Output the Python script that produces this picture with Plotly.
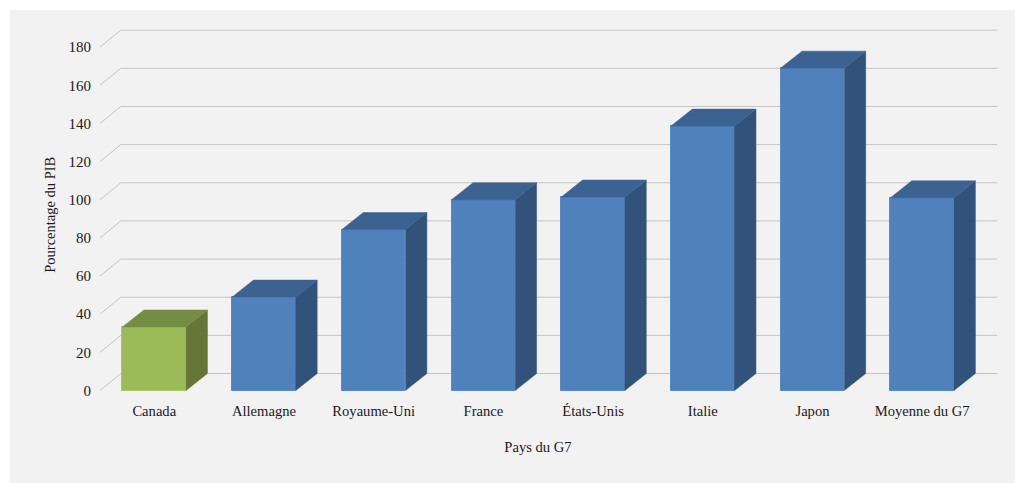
import plotly.graph_objects as go

categories = ["Canada", "Allemagne", "Royaume-Uni", "France", "États-Unis", "Italie", "Japon", "Moyenne du G7"]
values = [33.3, 49, 84.4, 100, 101.4, 138.6, 169, 101]
y_ticks = [0, 20, 40, 60, 80, 100, 120, 140, 160, 180]

front_colors = ["#9BBB59"] + ["#4F81BD"] * 7
side_colors = ["#657637"] + ["#31527A"] * 7
top_colors = ["#758C43"] + ["#3B6291"] * 7
edge_colors = ["#A9C66C"] + ["#5A8AC4"] * 7

W, H = 1015, 491
BAR_W = 0.58
DX, DY = 0.195, 8.9
GRID_DX = 0.19
LEFT = -0.4945
X_RANGE = [-0.686, 7.682]
Y_RANGE = [-5.24, 189.5]
GRID = "#C4C4C4"
FONT = "Liberation Serif"
INK = "#1a1a1a"

fig = go.Figure()
half = BAR_W / 2
idx = list(range(len(categories)))

for i, v in zip(idx, values):
    l, r = i - half, i + half
    fig.add_trace(go.Scatter(x=[r, r + DX, r + DX, r, r], y=[0, DY, v + DY, v, 0],
                             mode="lines", fill="toself", fillcolor=side_colors[i],
                             line=dict(color=side_colors[i], width=0.5), hoverinfo="skip"))
    fig.add_trace(go.Scatter(x=[l, l + DX, r + DX, r, l], y=[v, v + DY, v + DY, v, v],
                             mode="lines", fill="toself", fillcolor=top_colors[i],
                             line=dict(color=top_colors[i], width=0.5), hoverinfo="skip"))

fig.add_trace(go.Bar(x=idx, y=values, width=BAR_W,
                     marker=dict(color=front_colors, line=dict(color=edge_colors, width=1))))

shapes = [dict(type="rect", xref="paper", yref="paper", x0=10 / W, x1=1, y0=0, y1=1 - 10 / H,
               fillcolor="#F2F2F2", line_width=0, layer="below")]
for t in y_ticks:
    shapes.append(dict(type="line", xref="x", yref="y", x0=LEFT, y0=t, x1=LEFT + GRID_DX, y1=t + DY,
                       line=dict(color=GRID, width=1), layer="below"))
    shapes.append(dict(type="line", xref="x", yref="y", x0=LEFT + GRID_DX, y0=t + DY, x1=X_RANGE[1], y1=t + DY,
                       line=dict(color=GRID, width=1), layer="below"))

fig.update_layout(
    width=W, height=H, margin=dict(l=0, r=0, t=0, b=0, pad=0),
    paper_bgcolor="white", plot_bgcolor="rgba(0,0,0,0)", showlegend=False,
    font=dict(family=FONT, size=14.6, color=INK), shapes=shapes, bargap=0,
    xaxis=dict(domain=[79 / W, 997 / W], range=X_RANGE, tickmode="array", tickvals=idx,
               ticktext=categories, showgrid=False, zeroline=False, showline=False,
               ticks="", ticklabelstandoff=0,
               title=dict(text="Pays du G7", standoff=23, font=dict(size=14.6))),
    yaxis=dict(domain=[(H - 400.5) / H, (H - 29) / H], range=Y_RANGE, anchor="free",
               position=100 / W, tickmode="array", tickvals=y_ticks,
               showgrid=False, zeroline=False, showline=False,
               ticks="outside", ticklen=6, tickcolor="rgba(0,0,0,0)",
               tickfont=dict(size=15),
               title=dict(text="Pourcentage du PIB", standoff=8, font=dict(size=14.5))),
)

fig.write_html("out.html", config=dict(displayModeBar=False),
               post_script="document.body.style.margin='0';")
